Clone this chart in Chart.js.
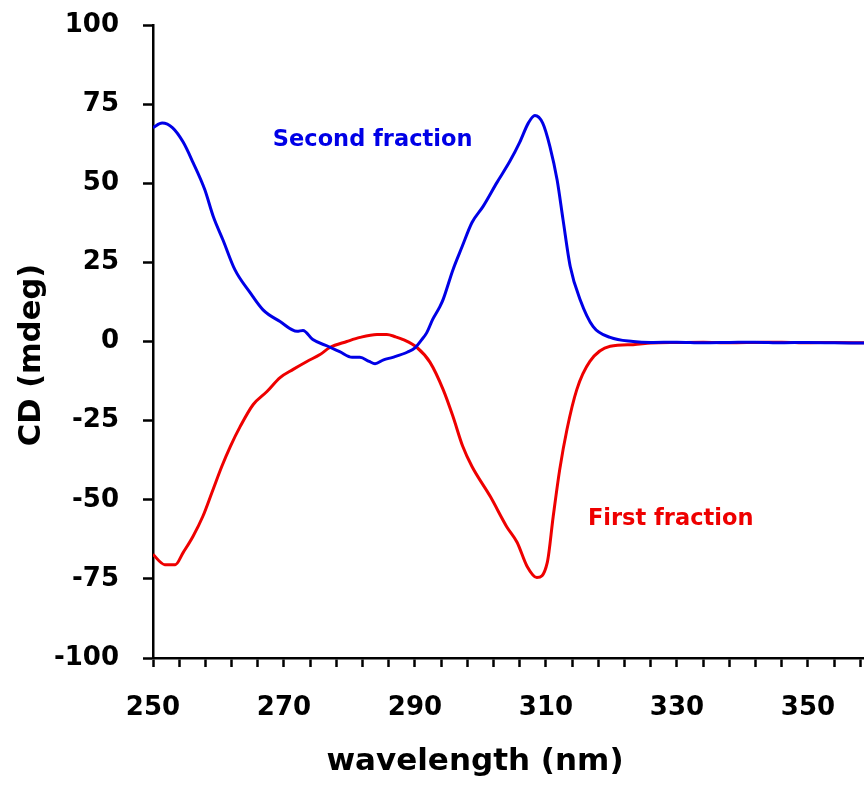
<!DOCTYPE html>
<html>
<head>
<meta charset="utf-8">
<title>CD spectra</title>
<script src="https://cdn.jsdelivr.net/npm/chart.js@4.4.1/dist/chart.umd.min.js"></script>
<style>
  html, body { margin: 0; padding: 0; background: #fff; overflow: hidden; }
  canvas { display: block; }
</style>
</head>
<body>
<canvas id="cdChart" width="864" height="789"></canvas>
<script>
// wavelength (nm) / CD (mdeg)
const secondNm = [250, 251.4, 253, 254.6, 256.1, 257.9, 259.2, 260.7, 262.5, 264.8, 266.8, 269.4, 272, 272.9, 274.4, 276.7, 278.5, 280.4, 281.6, 283, 283.9, 285.2, 286.6, 288.8, 290, 291, 291.8, 292.7, 293.8, 294.3, 295.8, 297.2, 298.7, 300.4, 302.5, 304.5, 306, 307.3, 308.3, 309.5, 310.6, 311.7, 312.6, 313.7, 315.2, 317.2, 319.8, 323.3, 326, 330, 334, 338, 342, 346, 350, 354, 358.6];
const secondCd = [67.6, 69.0, 67.5, 63.0, 56.6, 48.0, 39.5, 32.0, 22.7, 15.5, 10.0, 6.3, 3.2, 3.5, 0.6, -1.5, -3.2, -5.0, -5.0, -6.3, -7.0, -5.8, -5.0, -3.4, -2.0, 0.5, 2.8, 7.0, 11.0, 13.3, 22.7, 30.0, 37.6, 42.7, 50.2, 57.0, 63.0, 69.0, 71.4, 69.0, 61.6, 51.0, 38.5, 23.7, 13.3, 4.7, 1.3, 0.0, -0.3, -0.2, -0.4, -0.3, -0.2, -0.4, -0.3, -0.4, -0.5];

const firstNm = [250, 251.8, 253.4, 254.6, 256.1, 257.6, 259, 260.5, 261.8, 263.3, 265.3, 267.4, 269.4, 271.4, 273.5, 275.5, 277, 279.6, 281.6, 284.2, 285.7, 287, 288.2, 290.3, 292.3, 294.3, 295.8, 297.3, 298.7, 301.5, 304, 305.6, 307.1, 308.6, 310.2, 311.1, 312.1, 313.2, 314.7, 316.7, 319.8, 323.3, 326, 330, 334, 338, 342, 346, 350, 354, 358.6];
const firstCd = [-67.3, -70.5, -70.5, -66.7, -61.6, -55.3, -47.7, -39.5, -33.2, -26.9, -19.9, -15.8, -11.4, -8.8, -6.3, -4.1, -1.9, 0.0, 1.3, 2.2, 2.2, 1.5, 0.6, -1.9, -6.6, -15.2, -23.7, -33.2, -39.5, -49.0, -58.5, -63.5, -71.0, -74.6, -69.8, -55.3, -40.4, -27.8, -15.2, -6.3, -1.5, -1.0, -0.5, -0.3, -0.2, -0.4, -0.3, -0.2, -0.4, -0.3, -0.4];

const xLabels = [250, 270, 290, 310, 330, 350];
const yLabels = [-100, -75, -50, -25, 0, 25, 50, 75, 100];

const seriesNames = ["Second fraction", "First fraction"];
const seriesColors = ["#0000e6", "#ee0000"];

function toPoints(xs, ys) {
  return xs.map((x, i) => ({ x: x, y: ys[i] }));
}

const fontFamily = "'DejaVu Sans', sans-serif";
const tickFont = { family: fontFamily, size: 26, weight: "bold" };

// series names + axis titles, placed like in the original figure
const textPlugin = {
  id: "texts",
  afterDraw(chart) {
    const ctx = chart.ctx;
    const x = chart.scales.x;
    const y = chart.scales.y;
    ctx.save();
    ctx.textBaseline = "middle";
    ctx.textAlign = "left";
    ctx.font = "bold 22.5px " + fontFamily;
    ctx.fillStyle = seriesColors[0];
    ctx.fillText(seriesNames[0], x.getPixelForValue(268.3), y.getPixelForValue(63.5));
    ctx.fillStyle = seriesColors[1];
    ctx.fillText(seriesNames[1], x.getPixelForValue(316.4), y.getPixelForValue(-56.2));

    ctx.fillStyle = "#000";
    ctx.textAlign = "center";
    ctx.font = "bold 31px " + fontFamily;
    ctx.fillText("wavelength (nm)", 475, 762);
    ctx.translate(32, 355);
    ctx.rotate(-Math.PI / 2);
    ctx.font = "bold 30.5px " + fontFamily;
    ctx.fillText("CD (mdeg)", 0, 0);
    ctx.restore();
  }
};

const ctx = document.getElementById("cdChart").getContext("2d");
const cdChart = new Chart(ctx, {
  type: "line",
  data: {
    datasets: [
      {
        label: seriesNames[0],
        data: toPoints(secondNm, secondCd),
        borderColor: seriesColors[0],
        borderWidth: 3,
        pointRadius: 0,
        cubicInterpolationMode: "monotone",
        fill: false
      },
      {
        label: seriesNames[1],
        data: toPoints(firstNm, firstCd),
        borderColor: seriesColors[1],
        borderWidth: 3,
        pointRadius: 0,
        cubicInterpolationMode: "monotone",
        fill: false
      }
    ]
  },
  options: {
    responsive: false,
    animation: false,
    layout: { padding: { top: 25, right: 0, bottom: 0, left: 0 } },
    plugins: {
      legend: { display: false },
      tooltip: { enabled: false }
    },
    scales: {
      x: {
        type: "linear",
        min: 250,
        max: 358.55,
        afterFit: (scale) => {
          scale.height = 131;
          scale.paddingLeft = 0;
          scale.paddingRight = 0;
        },
        afterBuildTicks: (scale) => {
          const ticks = [];
          for (let v = 250; v <= 358; v += 4) ticks.push({ value: v });
          scale.ticks = ticks;
        },
        border: { display: true, color: "#000", width: 2.5 },
        grid: { drawOnChartArea: false, drawTicks: true, tickLength: 9, tickColor: "#000", tickWidth: 2.5 },
        ticks: {
          autoSkip: false,
          maxRotation: 0,
          color: "#000",
          font: tickFont,
          padding: 26,
          callback: (v) => (xLabels.includes(v) ? String(v) : "")
        }
      },
      y: {
        min: -100,
        max: 100,
        afterFit: (scale) => {
          scale.width = 153;
          scale.paddingTop = 0;
          scale.paddingBottom = 0;
        },
        afterBuildTicks: (scale) => {
          scale.ticks = yLabels.map((v) => ({ value: v }));
        },
        border: { display: true, color: "#000", width: 2.5 },
        grid: { drawOnChartArea: false, drawTicks: true, tickLength: 10, tickColor: "#000", tickWidth: 2.5 },
        ticks: {
          color: "#000",
          font: tickFont,
          padding: 24
        }
      }
    }
  },
  plugins: [textPlugin]
});
</script>
</body>
</html>
